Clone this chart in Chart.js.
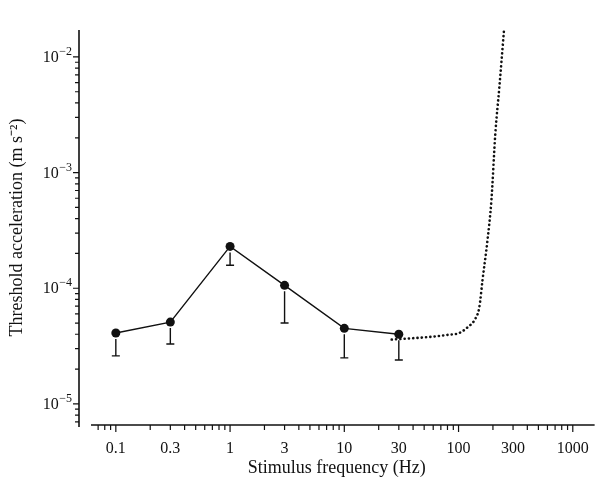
<!DOCTYPE html>
<html>
<head>
<meta charset="utf-8">
<script src="https://cdn.jsdelivr.net/npm/chart.js@4/dist/chart.umd.min.js"></script>
<style>
  body { margin: 0; background: #fff; }
  #wrap { width: 603px; height: 486px; }
</style>
</head>
<body>
<div id="wrap"><canvas id="chart" width="603" height="486"></canvas></div>
<script>
// measured thresholds (Hz, m s-2)
const freqs = [0.1, 0.3, 1, 3, 10, 30];
const threshold = [4.1e-5, 5.1e-5, 2.3e-4, 1.06e-4, 4.5e-5, 4.0e-5];
const thresholdLow = [2.6e-5, 3.3e-5, 1.58e-4, 5.0e-5, 2.5e-5, 2.4e-5];

// dotted curve
const curveFreqs = [26, 40, 57, 80, 101, 120, 141, 152, 162, 179, 194, 210, 228, 251];
const curveValues = [3.6e-5, 3.7e-5, 3.8e-5, 3.95e-5, 4.1e-5, 4.6e-5, 5.5e-5, 6.85e-5, 1.17e-4, 2.58e-4, 5.8e-4, 2.2e-3, 5.6e-3, 1.8e-2];

// tick labels
const xTickValues = [0.1, 0.3, 1, 3, 10, 30, 100, 300, 1000];
const xTickLabels = ['0.1', '0.3', '1', '3', '10', '30', '100', '300', '1000'];
const yTickValues = [1e-5, 1e-4, 1e-3, 1e-2];
const yTickExps = ['\u22125', '\u22124', '\u22123', '\u22122'];

const ink = '#111';
const font = "'Liberation Serif', 'Times New Roman', serif";

// error bars, axes, tick marks and y labels (10 with superscript)
const extras = {
  id: 'extras',
  afterDatasetsDraw(chart) {
    const c = chart.ctx, xs = chart.scales.x, ys = chart.scales.y;
    c.save();
    c.strokeStyle = ink;
    c.lineWidth = 1.4;
    for (let i = 0; i < freqs.length; i++) {
      const px = xs.getPixelForValue(freqs[i]);
      const top = ys.getPixelForValue(threshold[i]) + 6;
      const bot = ys.getPixelForValue(thresholdLow[i]);
      c.beginPath();
      c.moveTo(px, top); c.lineTo(px, bot);
      c.moveTo(px - 4, bot); c.lineTo(px + 4, bot);
      c.stroke();
    }
    // axes
    const a = chart.chartArea;
    c.lineWidth = 1.6;
    c.beginPath();
    c.moveTo(a.left, a.top); c.lineTo(a.left, a.bottom + 2);
    c.moveTo(a.left + 12, a.bottom); c.lineTo(a.right, a.bottom);
    c.stroke();
    c.lineWidth = 1.2;
    c.beginPath();
    for (let e = -6; e <= -2; e++) {
      for (let k = 1; k <= 9; k++) {
        const v = k * Math.pow(10, e);
        const py = ys.getPixelForValue(v);
        if (py < a.top || py > a.bottom) continue;
        const len = k === 1 ? 6 : 4;
        c.moveTo(a.left - len, py); c.lineTo(a.left, py);
      }
    }
    for (let e = -2; e <= 3; e++) {
      for (let k = 1; k <= 9; k++) {
        const v = k * Math.pow(10, e);
        const px = xs.getPixelForValue(v);
        if (px < a.left + 14 || px > a.right) continue;
        const len = k === 1 ? 7 : 5;
        c.moveTo(px, a.bottom); c.lineTo(px, a.bottom + len);
      }
    }
    c.stroke();
    // y labels
    c.fillStyle = ink;
    c.textAlign = 'right';
    c.textBaseline = 'middle';
    yTickValues.forEach((v, i) => {
      const py = ys.getPixelForValue(v);
      const xr = a.left - 7;
      c.font = '12px ' + font;
      const sw = c.measureText(yTickExps[i]).width;
      c.fillText(yTickExps[i], xr, py - 5);
      c.font = '16px ' + font;
      c.fillText('10', xr - sw - 0.5, py + 1);
    });
    c.restore();
  }
};

new Chart(document.getElementById('chart'), {
  type: 'line',
  data: {
    datasets: [{
      data: freqs.map((f, i) => ({ x: f, y: threshold[i] })),
      borderColor: ink,
      backgroundColor: ink,
      borderWidth: 1.4,
      pointRadius: 4.5,
      pointBackgroundColor: ink,
      pointBorderWidth: 0,
      tension: 0
    }, {
      data: curveFreqs.map((f, i) => ({ x: f, y: curveValues[i] })),
      borderColor: ink,
      borderWidth: 2.6,
      borderDash: [0.1, 4.2],
      borderCapStyle: 'round',
      pointRadius: 0,
      cubicInterpolationMode: 'monotone'
    }]
  },
  options: {
    responsive: false,
    animation: false,
    layout: { padding: { top: 30, right: 5, left: 0, bottom: 0 } },
    plugins: { legend: { display: false }, tooltip: { enabled: false } },
    scales: {
      x: {
        type: 'logarithmic',
        min: 0.0476,
        max: 1553,
        grid: { display: false, drawTicks: false },
        border: { display: false },
        afterBuildTicks: s => { s.ticks = xTickValues.map(v => ({ value: v })); },
        afterFit: s => { s.height = 61; },
        ticks: {
          autoSkip: false,
          maxRotation: 0,
          padding: 14,
          color: ink,
          font: { family: font, size: 16 },
          callback: v => xTickLabels[xTickValues.indexOf(v)]
        },
        title: {
          display: true,
          text: 'Stimulus frequency (Hz)',
          color: ink,
          padding: { top: 0, bottom: 7 },
          font: { family: font, size: 18 }
        }
      },
      y: {
        type: 'logarithmic',
        min: 6.57e-6,
        max: 1.71e-2,
        grid: { display: false, drawTicks: false },
        border: { display: false },
        afterBuildTicks: s => { s.ticks = yTickValues.map(v => ({ value: v })); },
        afterFit: s => { s.width = 79; },
        ticks: { display: false },
        title: {
          display: true,
          text: 'Threshold acceleration (m s\u207B\u00B2)',
          color: ink,
          padding: { top: 6, bottom: 0 },
          font: { family: font, size: 18 }
        }
      }
    }
  },
  plugins: [extras]
});
</script>
</body>
</html>
